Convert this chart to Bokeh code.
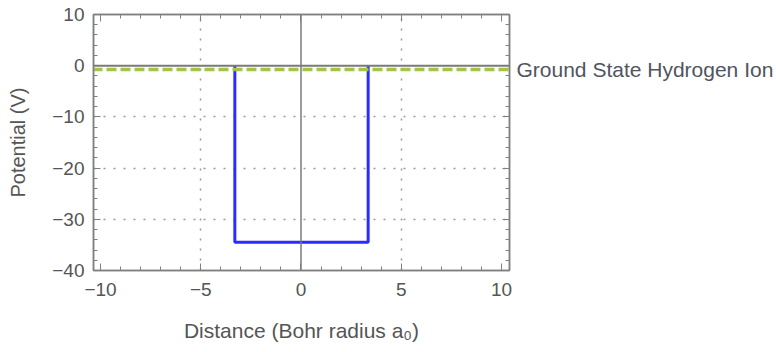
from bokeh.plotting import figure
from bokeh.models import Range1d, LinearAxis, Span, FixedTicker, CustomJSTickFormatter
from bokeh.embed import file_html
from bokeh.resources import INLINE

# Data
well_x = [-3.3, -3.3, 3.35, 3.35]
well_y = [0.0, -34.5, -34.5, 0.0]
ground_x = [-10.4, 10.4]
ground_y = [-0.75, -0.75]
ground_label = "Ground State Hydrogen Ion"
x_ticks = [-10, -5, 0, 5, 10]
y_ticks = [-40, -30, -20, -10, 0, 10]

FONT = "Liberation Sans"
TXT = "#555555"
FRAME = "#808080"

p = figure(width=776, height=352, output_backend="svg", toolbar_location=None,
           x_range=Range1d(-10.35, 10.4), y_range=Range1d(-40, 10),
           min_border_left=93, min_border_right=267, min_border_top=14, min_border_bottom=82,
           x_axis_label="Distance (Bohr radius a₀)", y_axis_label="Potential (V)")
p.background_fill_color = "white"
p.border_fill_color = "white"
p.outline_line_color = FRAME
p.outline_line_width = 1.5

p.xaxis.ticker = FixedTicker(ticks=x_ticks, minor_ticks=list(range(-10, 11)))
p.yaxis.ticker = FixedTicker(ticks=y_ticks, minor_ticks=list(range(-40, 11, 2)))

for ax in [p.xaxis[0], p.yaxis[0]]:
    ax.axis_line_color = FRAME
    ax.axis_line_width = 1.5
    ax.major_tick_in = 7
    ax.major_tick_out = 0
    ax.minor_tick_in = 4
    ax.minor_tick_out = 0
    ax.major_tick_line_color = FRAME
    ax.minor_tick_line_color = FRAME
    ax.major_label_text_font = FONT
    ax.major_label_text_font_size = "19px"
    ax.major_label_text_color = TXT
    ax.axis_label_text_font = FONT
    ax.axis_label_text_font_size = "20px"
    ax.axis_label_text_font_style = "normal"
    ax.axis_label_text_color = TXT
p.xaxis.axis_label_text_font_size = "21px"
p.xaxis.major_label_standoff = 12
p.xaxis.axis_label_standoff = 20
p.yaxis.major_label_standoff = 9
p.yaxis.axis_label_standoff = 20

# frame ticks on top and right (no labels)
empty = CustomJSTickFormatter(code="return ''")
top = LinearAxis(ticker=FixedTicker(ticks=x_ticks, minor_ticks=list(range(-10, 11))), formatter=empty)
right = LinearAxis(ticker=FixedTicker(ticks=y_ticks, minor_ticks=list(range(-40, 11, 2))), formatter=empty)
for ax in [top, right]:
    ax.axis_line_color = FRAME
    ax.axis_line_width = 1.5
    ax.major_tick_in = 7
    ax.major_tick_out = 0
    ax.minor_tick_in = 4
    ax.minor_tick_out = 0
    ax.major_tick_line_color = FRAME
    ax.minor_tick_line_color = FRAME
    ax.major_label_standoff = 0
p.add_layout(top, "above")
p.add_layout(right, "right")

# label for the ground-state line, placed as a right-side tick label
lab = LinearAxis(ticker=FixedTicker(ticks=[ground_y[0]], minor_ticks=[]),
                 major_label_overrides={ground_y[0]: ground_label})
lab.axis_line_color = None
lab.major_tick_line_color = None
lab.major_tick_in = 0
lab.major_tick_out = 0
lab.major_label_standoff = 7
lab.major_label_text_font = FONT
lab.major_label_text_font_size = "21px"
lab.major_label_text_color = "#4f5560"
p.add_layout(lab, "right")

p.xgrid.ticker = FixedTicker(ticks=[-5, 5])
p.ygrid.ticker = FixedTicker(ticks=[-30, -20, -10])
for g in [p.xgrid[0], p.ygrid[0]]:
    g.grid_line_color = "#999999"
    g.grid_line_dash = "2 8"
    g.grid_line_width = 1.5

p.line(well_x, well_y, line_color="#2b2bff", line_width=3)
p.line(ground_x, ground_y, line_color="#a3c447", line_width=3.5, line_dash="10 4")

p.add_layout(Span(location=0, dimension="width", line_color="#7a7a7a", line_width=2))
p.add_layout(Span(location=0, dimension="height", line_color="#7a7a7a", line_width=1.5))

open("out.html", "w").write(file_html(p, INLINE))
